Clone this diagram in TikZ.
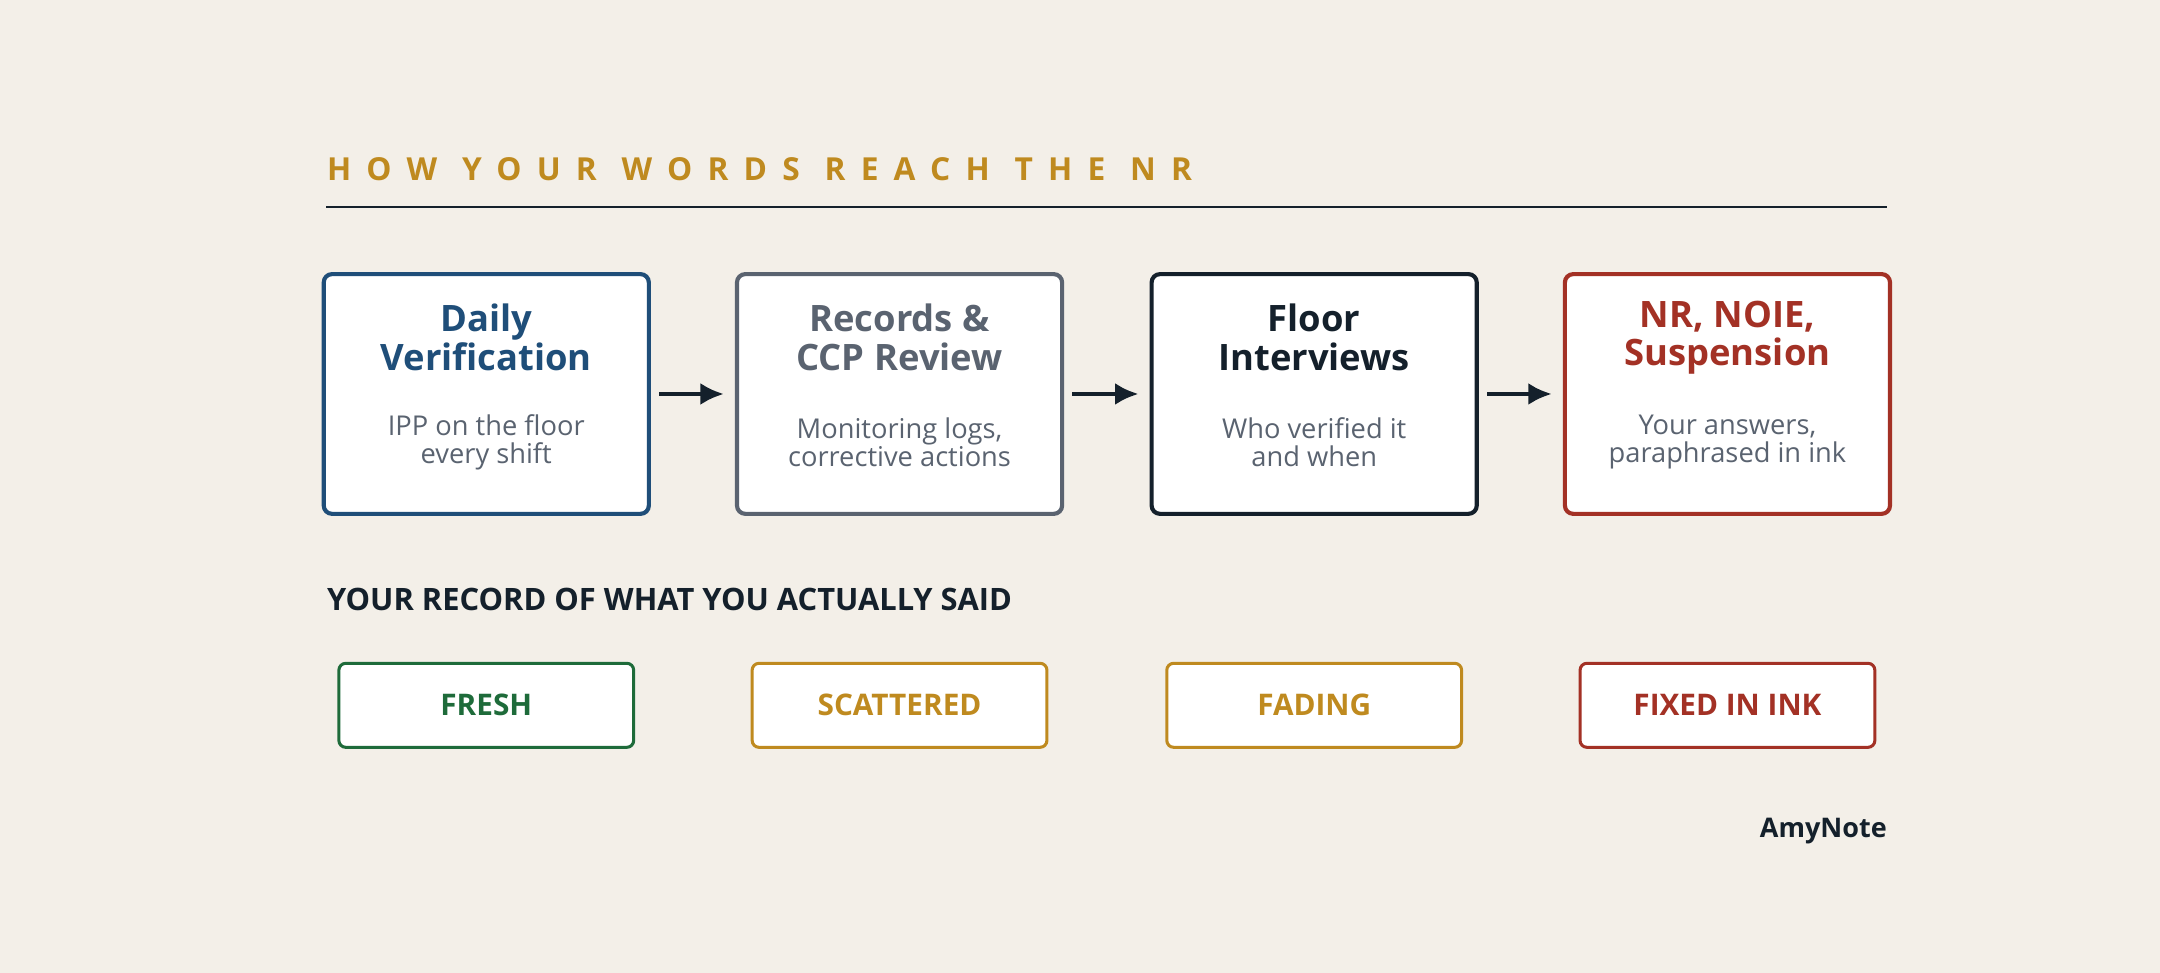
\documentclass[tikz,border=0pt]{standalone}
\usepackage{fontspec}
\setmainfont{Open Sans}
\usetikzlibrary{arrows.meta}
\definecolor{bg}{HTML}{F3EFE8}
\definecolor{cblue}{HTML}{1F4E79}
\definecolor{cgray}{HTML}{5A6370}
\definecolor{cdark}{HTML}{14202B}
\definecolor{cred}{HTML}{A33125}
\definecolor{cgreen}{HTML}{1E6B3A}
\definecolor{cgold}{HTML}{BF8A1F}
\begin{document}
\begin{tikzpicture}[x=0.5pt,y=-0.5pt,
 big/.style={draw=#1,line width=1.5pt,fill=white,rounded corners=3pt,minimum width=118pt,minimum height=87pt},
 small/.style={draw=#1,line width=1.1pt,fill=white,rounded corners=2.5pt,minimum width=107pt,minimum height=30.5pt,text=#1,font=\fontsize{10.8}{12}\selectfont\bfseries},
 ttl/.style={text=#1,font=\fontsize{13.2}{14}\selectfont\bfseries,align=center},
 sub/.style={text=cgray,font=\fontsize{9.9}{10.4}\selectfont,align=center},
 arr/.style={-{Latex[length=8.5pt,width=8pt]},line width=1.6pt,draw=cdark,shorten <=3pt,shorten >=4pt}]
\fill[bg] (0,0) rectangle (1568,706);
\useasboundingbox (0,0) rectangle (1568,706);
\node[anchor=base west,text=cgold,inner sep=0,font=\fontsize{11.5}{12}\selectfont\bfseries\addfontfeature{LetterSpace=48}] (title) at (237,131) {HOW\hspace{9pt}YOUR\hspace{9pt}WORDS\hspace{9pt}REACH\hspace{9pt}THE\hspace{9pt}NR};
\coordinate (l1) at (237,150); \coordinate (l2) at (1370,150);
\draw[cdark,line width=0.8pt] (l1) -- (l2);
\node[big=cblue] (a) at (353,286) {};
\node[big=cgray] (b) at (653,286) {};
\node[big=cdark] (c) at (954,286) {};
\node[big=cred] (d) at (1254,286) {};
\node[ttl=cblue] (at) at (353,245) {Daily\\Verification};
\node[ttl=cgray] (bt) at (653,245) {Records \&\\CCP Review};
\node[ttl=cdark] (ct) at (954,245) {Floor\\Interviews};
\node[ttl=cred] (dt) at (1254,245) {NR, NOIE,\\Suspension};
\node[sub] (as) at (353,321) {IPP on the floor\\every shift};
\node[sub] (bs) at (653,321) {Monitoring logs,\\corrective actions};
\node[sub] (cs) at (954,321) {Who verified it\\and when};
\node[sub] (ds) at (1254,321) {Your answers,\\paraphrased in ink};
\draw[arr] (a) -- (b);
\draw[arr] (b) -- (c);
\draw[arr] (c) -- (d);
\node[anchor=base west,inner sep=0,text=cdark,font=\fontsize{11.2}{12}\selectfont\bfseries] (h) at (237,443) {YOUR RECORD OF WHAT YOU ACTUALLY SAID};
\node[small=cgreen] (s1) at (353,512) {FRESH};
\node[small=cgold] (s2) at (653,512) {SCATTERED};
\node[small=cgold] (s3) at (954,512) {FADING};
\node[small=cred] (s4) at (1254,512) {FIXED IN INK};
\node[anchor=base east,inner sep=0,text=cdark,font=\fontsize{9.8}{11}\selectfont\bfseries] (brand) at (1370,608) {AmyNote};
\end{tikzpicture}
\end{document}
